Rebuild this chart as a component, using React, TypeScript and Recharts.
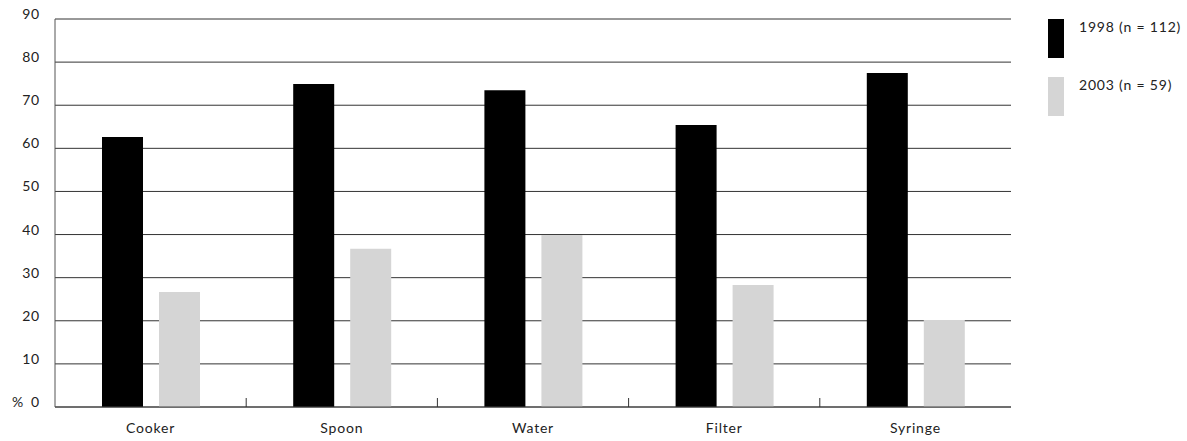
import React from 'react';
import { BarChart, Bar, XAxis, YAxis, CartesianGrid, Legend } from 'recharts';

const categories = ['Cooker', 'Spoon', 'Water', 'Filter', 'Syringe'];
const values1998 = [62.6, 74.9, 73.5, 65.4, 77.5];
const values2003 = [26.7, 36.7, 39.9, 28.3, 20.2];
const yTicks = [0, 10, 20, 30, 40, 50, 60, 70, 80, 90];
const seriesNames = ['1998 (n = 112)', '2003 (n = 59)'];

const data = categories.map((c, i) => ({ name: c, a: values1998[i], b: values2003[i] }));

const FONT = 'Lato, "Open Sans", sans-serif';
const TEXT = '#222';
const LS = 0.8;

const YTick = (props: any) => {
  const { x, y, payload } = props;
  if (payload.value === 0) {
    return (
      <text x={x} y={y} textAnchor="end" fontSize={14} fontFamily={FONT} fill={TEXT} letterSpacing={LS}>
        <tspan>%</tspan>
        <tspan dx={7}>0</tspan>
      </text>
    );
  }
  return (
    <text x={x} y={y} textAnchor="end" fontSize={14} fontFamily={FONT} fill={TEXT} letterSpacing={LS}>
      {String(payload.value)}
    </text>
  );
};

const XTick = (props: any) => {
  const { x, y, payload, index } = props;
  const half = typeof payload.offset === 'number' ? payload.offset : 0;
  const bx = x - half;
  return (
    <g>
      {index > 0 && half > 0 ? (
        <line x1={bx} x2={bx} y1={y} y2={y - 9} stroke="#333" strokeWidth={1} />
      ) : null}
      <text x={x} y={y} dy={26} textAnchor="middle" fontSize={14} fontFamily={FONT} fill={TEXT} letterSpacing={LS}>
        {payload.value}
      </text>
    </g>
  );
};

const LegendContent = () => (
  <div style={{ fontFamily: FONT, fontSize: 14, color: TEXT, letterSpacing: LS }}>
    {[['#000000', seriesNames[0]], ['#d5d5d5', seriesNames[1]]].map(([col, name], i) => (
      <div key={i} style={{ display: 'flex', alignItems: 'flex-start', height: 58 }}>
        <div style={{ width: 16, height: 39, background: col, marginRight: 15, flexShrink: 0 }} />
        <div style={{ lineHeight: '16px', marginTop: 0, whiteSpace: 'nowrap' }}>{name}</div>
      </div>
    ))}
  </div>
);

export default function App() {
  return (
    <div style={{ position: 'absolute', left: 0, top: 0, background: '#fff' }}>
      <BarChart
        width={1187}
        height={441}
        data={data}
        margin={{ top: 19, right: 176, bottom: 0, left: 0 }}
        barCategoryGap="24.4%"
        barGap={16}
      >
        <CartesianGrid horizontal vertical={false} stroke="#333" />
        <XAxis
          dataKey="name"
          height={34}
          tickSize={0}
          tickMargin={0}
          interval={0}
          tick={<XTick />}
          axisLine={{ stroke: '#444' }}
          tickLine={false}
        />
        <YAxis
          domain={[0, 90]}
          ticks={yTicks}
          width={55}
          tickSize={0}
          tickMargin={15}
          tick={<YTick />}
          axisLine={{ stroke: '#555' }}
          tickLine={false}
        />
        <YAxis
          yAxisId="right"
          orientation="right"
          domain={[0, 90]}
          width={0}
          tick={false}
          tickLine={false}
          axisLine={{ stroke: '#555' }}
        />
        <Legend
          layout="horizontal"
          verticalAlign="middle"
          align="center"
          content={<LegendContent />}
          wrapperStyle={{ left: 1048, top: 19, width: 139 }}
        />
        <Bar dataKey="a" name={seriesNames[0]} fill="#000000" barSize={41} isAnimationActive={false} />
        <Bar dataKey="b" name={seriesNames[1]} fill="#d5d5d5" barSize={41} isAnimationActive={false} />
      </BarChart>
    </div>
  );
}
